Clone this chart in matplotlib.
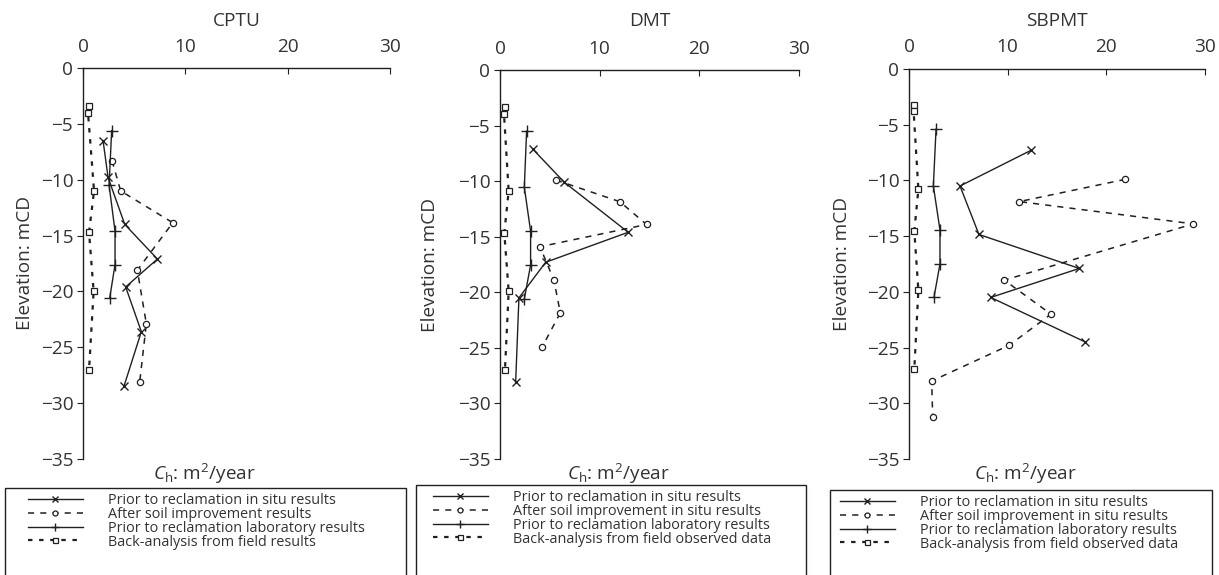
import numpy as np
import matplotlib
matplotlib.use("Agg")
import matplotlib.pyplot as plt
from matplotlib.patches import Rectangle

plt.rcParams['font.family'] = ['Open Sans', 'DejaVu Sans']
plt.rcParams['mathtext.fontset'] = 'custom'
plt.rcParams['mathtext.rm'] = 'Open Sans'
plt.rcParams['mathtext.it'] = 'Open Sans:italic'

INK = '#231f20'

# ---- CPTU ----
cptu_insitu_x = [1.96, 2.45, 4.08, 7.27, 4.17, 5.7, 4.0]
cptu_insitu_y = [-6.5, -9.8, -14.0, -17.1, -19.6, -23.6, -28.5]
cptu_after_x = [2.84, 3.68, 8.77, 5.31, 6.19, 5.54]
cptu_after_y = [-8.3, -11.0, -13.85, -18.1, -22.9, -28.1]
cptu_lab_x = [2.8, 2.55, 3.13, 3.13, 2.61]
cptu_lab_y = [-5.6, -10.5, -14.6, -17.6, -20.6]
cptu_back_x = [0.59, 0.49, 1.08, 0.59, 1.04, 0.59]
cptu_back_y = [-3.4, -4.0, -11.0, -14.7, -20.0, -27.0]

# ---- DMT ----
dmt_insitu_x = [3.27, 6.45, 12.86, 4.58, 1.9, 1.57]
dmt_insitu_y = [-7.1, -10.1, -14.6, -17.3, -20.5, -28.1]
dmt_after_x = [5.61, 12.03, 14.7, 4.01, 5.41, 6.05, 4.24]
dmt_after_y = [-9.9, -11.85, -13.9, -15.9, -18.9, -21.85, -24.9]
dmt_lab_x = [2.67, 2.44, 3.07, 3.07, 2.44]
dmt_lab_y = [-5.5, -10.55, -14.5, -17.55, -20.6]
dmt_back_x = [0.5, 0.4, 0.87, 0.43, 0.87, 0.5]
dmt_back_y = [-3.35, -3.95, -10.9, -14.65, -19.9, -26.95]

# ---- SBPMT ----
sbp_insitu_x = [12.36, 5.17, 7.09, 17.26, 8.28, 17.87]
sbp_insitu_y = [-7.3, -10.5, -14.85, -17.9, -20.5, -24.5]
sbp_after_x = [21.93, 11.18, 28.82, 9.66, 14.39, 10.14, 2.3, 2.4]
sbp_after_y = [-9.9, -11.9, -13.9, -18.95, -22.0, -24.8, -28.0, -31.2]
sbp_lab_x = [2.74, 2.47, 3.14, 3.14, 2.53]
sbp_lab_y = [-5.4, -10.5, -14.45, -17.5, -20.5]
sbp_back_x = [0.54, 0.47, 0.95, 0.54, 0.95, 0.54]
sbp_back_y = [-3.25, -3.8, -10.8, -14.55, -19.85, -26.9]

titles = ['CPTU', 'DMT', 'SBPMT']
labels_cptu = ['Prior to reclamation in situ results',
               'After soil improvement results',
               'Prior to reclamation laboratory results',
               'Back-analysis from field results']
labels_other = ['Prior to reclamation in situ results',
                'After soil improvement in situ results',
                'Prior to reclamation laboratory results',
                'Back-analysis from field observed data']

panels = [
    (cptu_insitu_x, cptu_insitu_y, cptu_after_x, cptu_after_y,
     cptu_lab_x, cptu_lab_y, cptu_back_x, cptu_back_y, labels_cptu),
    (dmt_insitu_x, dmt_insitu_y, dmt_after_x, dmt_after_y,
     dmt_lab_x, dmt_lab_y, dmt_back_x, dmt_back_y, labels_other),
    (sbp_insitu_x, sbp_insitu_y, sbp_after_x, sbp_after_y,
     sbp_lab_x, sbp_lab_y, sbp_back_x, sbp_back_y, labels_other),
]

W, H = 1219, 575
fig = plt.figure(figsize=(W / 100, H / 100), dpi=100)

# pixel boxes: left, right, top, bottom
ax_px = [(83, 390, 68, 459), (500, 799, 70, 459), (909, 1205, 69, 459)]
ylab_x = [25, 430, 842]
# frame left, right, top, handle start
leg_box = [(5, 406, 488, 28), (416, 806, 485, 433), (830, 1212, 490, 840)]
FS = 13.7


def fx(px):
    return px / W


def fy(py):
    return 1 - py / H


for i, (ins_x, ins_y, aft_x, aft_y, lab_x, lab_y, bk_x, bk_y, labs) in enumerate(panels):
    l, r, t, b = ax_px[i]
    ax = fig.add_axes([fx(l), fy(b), (r - l) / W, (b - t) / H])

    h1, = ax.plot(ins_x, ins_y, color=INK, lw=1.0, marker='x', ms=6, mew=1.0)
    h2, = ax.plot(aft_x, aft_y, color=INK, lw=1.1, ls=(0, (4, 4)), marker='o',
                  ms=4.5, mfc='white', mew=0.9)
    h3, = ax.plot(lab_x, lab_y, color=INK, lw=1.0, marker='+', ms=8, mew=1.0)
    h4, = ax.plot(bk_x, bk_y, color=INK, lw=1.6, ls=(0, (2, 3)), marker='s',
                  ms=4.5, mfc='white', mew=0.9)

    ax.set_xlim(0, 30)
    ax.set_ylim(-35, 0)
    ax.set_xticks([0, 10, 20, 30])
    ax.set_yticks(np.arange(0, -36, -5))
    ax.xaxis.tick_top()
    ax.spines['right'].set_visible(False)
    ax.spines['bottom'].set_visible(False)
    for s in ('left', 'top'):
        ax.spines[s].set_color(INK)
        ax.spines[s].set_linewidth(1.0)
    ax.tick_params(axis='x', direction='in', length=4, pad=9, labelsize=FS,
                   colors=INK)
    ax.tick_params(axis='y', direction='out', length=4, pad=3, labelsize=FS,
                   colors=INK)
    for lbl in ax.get_xticklabels() + ax.get_yticklabels():
        lbl.set_color('#333333')

    fig.text(fx((l + r) / 2), fy(21), titles[i], ha='center', va='center',
             fontsize=FS, color='#333333')
    fig.text(fx(ylab_x[i]), fy((t + b) / 2), 'Elevation: mCD', rotation=90,
             ha='center', va='center', fontsize=FS, color='#333333')
    fig.text(fx(l + 0.395 * (r - l)), fy(474), r'$\mathit{C}_\mathrm{h}$: m$^2$/year',
             ha='center', va='center', fontsize=FS, color='#333333')

    # legend frame runs past the bottom edge
    bl, br, bt, hx = leg_box[i]
    fig.patches.append(Rectangle((fx(bl), fy(600)), (br - bl) / W, (600 - bt) / H,
                                 transform=fig.transFigure, fill=False,
                                 edgecolor=INK, lw=1.0))
    fig.legend([h1, h2, h3, h4], labs, loc='upper left',
               bbox_to_anchor=(fx(hx), fy(bt + 5)), frameon=False,
               fontsize=10.4, handlelength=3.8, handletextpad=1.75,
               labelspacing=-0.08, borderpad=0, borderaxespad=0,
               markerscale=0.8, labelcolor='#333333')

fig.savefig('out.png', dpi=100)
